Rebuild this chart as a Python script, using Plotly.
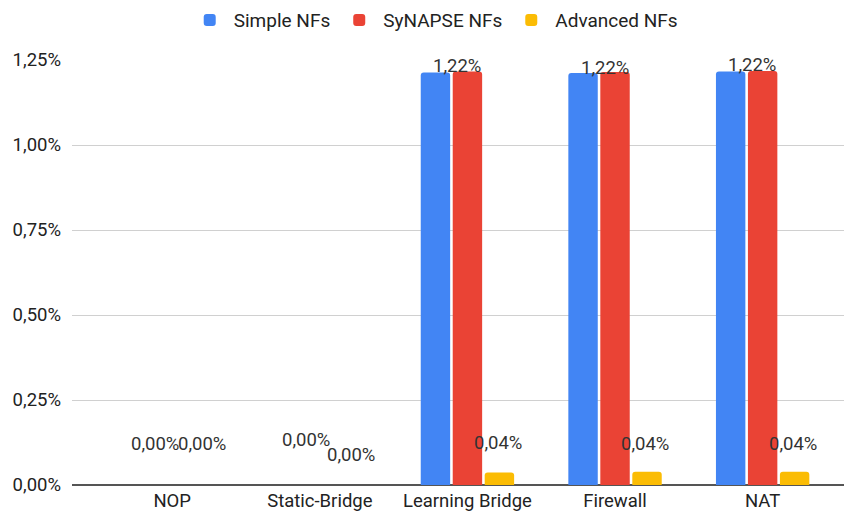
import plotly.graph_objects as go

categories = ["NOP", "Static-Bridge", "Learning Bridge", "Firewall", "NAT"]
simple_nfs = [0.0, 0.0, 1.213, 1.212, 1.216]      # percent
synapse_nfs = [0.0, 0.0, 1.216, 1.215, 1.218]     # percent
advanced_nfs = [0.0, 0.0, 0.037, 0.039, 0.039]    # percent
y_ticks = [0, 0.25, 0.5, 0.75, 1.0, 1.25]         # percent

BLUE, RED, YELLOW = "#4285F4", "#EA4335", "#FBBC04"
FONT = "Roboto"
FS = 18.5

def pct(v):
    return [x / 100 for x in v]

fig = go.Figure()
for name, vals, col in [("Simple NFs", simple_nfs, BLUE),
                        ("SyNAPSE NFs", synapse_nfs, RED),
                        ("Advanced NFs", advanced_nfs, YELLOW)]:
    fig.add_trace(go.Bar(name=name, x=categories, y=pct(vals),
                         marker=dict(color=col, cornerradius=3, line=dict(width=0)),
                         hoverinfo="skip"))

def fmt(v):
    return ("%.2f%%" % v).replace(".", ",")

# label offsets (style)
red_xshift = [-17, -14, -10, -10, -11]
red_yshift = [41, 45, 6, 4, 6]
yel_xshift = [30, 31, 31, 30, 30.5]
yel_yshift = [41, 30, 29, 28, 28]

for i, c in enumerate(categories):
    fig.add_annotation(x=c, y=synapse_nfs[i] / 100, text=fmt(synapse_nfs[i]),
                       showarrow=False, xshift=red_xshift[i], yshift=red_yshift[i],
                       yanchor="middle", font=dict(family=FONT, size=FS, color="#333333"))
    fig.add_annotation(x=c, y=advanced_nfs[i] / 100, text=fmt(advanced_nfs[i]),
                       showarrow=False, xshift=yel_xshift[i], yshift=yel_yshift[i],
                       yanchor="middle", font=dict(family=FONT, size=FS, color="#333333"))

fig.update_layout(
    width=844, height=509,
    margin=dict(l=64, r=7, t=52, b=32, autoexpand=False),
    paper_bgcolor="white", plot_bgcolor="white",
    separators=",.",
    barmode="group", bargap=0.35, bargroupgap=0.08,
    font=dict(family=FONT, size=FS, color="#222222"),
    legend=dict(orientation="h", x=0.505, xanchor="center", xref="container",
                y=1.094, yanchor="middle", yref="paper",
                font=dict(family=FONT, size=19, color="#222222"),
                itemwidth=38, traceorder="normal"),
    showlegend=True,
)
fig.update_xaxes(range=[-0.679, 4.558], showgrid=False, ticks="",
                 ticklabelstandoff=2, automargin=False,
                 tickfont=dict(family=FONT, size=FS, color="#222222"),
                 showline=False)
fig.update_yaxes(range=[0, 0.0125], tickvals=[t / 100 for t in y_ticks],
                 tickformat=".2%", showgrid=True, gridcolor="#d0d0d0", gridwidth=1,
                 zeroline=True, zerolinecolor="#555555", zerolinewidth=2,
                 ticks="", ticklabelstandoff=10, automargin=False,
                 tickfont=dict(family=FONT, size=FS, color="#222222"))

fig.write_html("out.html")
